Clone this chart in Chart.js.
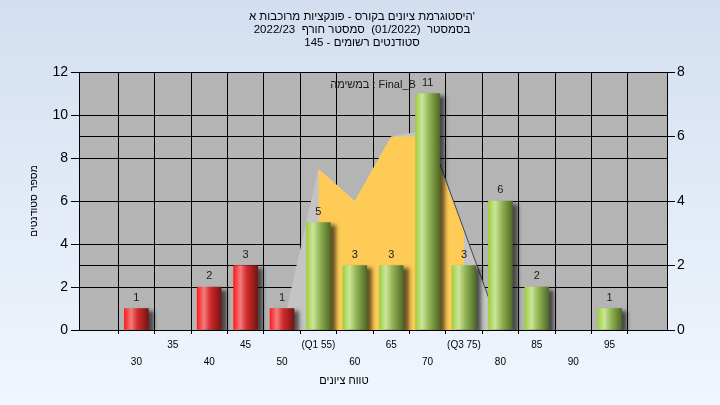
<!DOCTYPE html>
<html lang="he">
<head>
<meta charset="utf-8">
<title>Histogram</title>
<script src="https://cdn.jsdelivr.net/npm/chart.js@4/dist/chart.umd.min.js"></script>
<style>
    html, body {
        margin: 0;
        padding: 0;
        overflow: hidden;
    }
    body {
        width: 720px;
        height: 405px;
        background: linear-gradient(#d3dff1, #f0f6fd);
    }
    canvas {
        display: block;
    }
</style>
</head>
<body>
<canvas id="histChart" width="720" height="405"></canvas>
<script>
// Histogram data (grades on the x axis)
const grades = [30, 35, 40, 45, 50, 55, 60, 65, 70, 75, 80, 85, 90, 95];
const tickLabels = ['30', '35', '40', '45', '50', '(Q1 55)', '60', '65', '70', '(Q3 75)', '80', '85', '90', '95'];
const studentCounts = [1, 0, 2, 3, 1, 5, 3, 3, 11, 3, 6, 2, 0, 1];

// Right axis series
const curveValues = [null, null, null, null, 0, 5, 4, 6, 6.2, 3.1, 0, null, null, null];
const areaValues = [null, null, null, null, null, 5, 4, 6, 6, 3.1, null, null, null, null];

const passGrade = 55;

// Texts
const titleLines = [
    "היסטוגרמת ציונים בקורס - פונקציות מרוכבות א'",
    'בסמסטר  (01/2022)  סמסטר חורף  2022/23',
    'סטודנטים רשומים - 145'
];
const xTitle = 'טווח ציונים';
const yTitle = 'מספר סטודנטים';
const seriesNote = 'במשימה : Final_B';

const FONT = "'Liberation Sans', Arial, sans-serif";
const BAR_W = 24;

const redStops = [[0, '#ff1c1c'], [0.28, '#f37c7c'], [0.55, '#d22a2a'], [1, '#761414']];
const greenStops = [[0, '#9fcf3e'], [0.28, '#cbe59c'], [0.55, '#94b655'], [1, '#4f6a26']];

function toPoints(values) {
    return grades.map((g, i) => ({ x: g, y: values[i] })).filter(p => p.y !== null);
}

// Cylinder-like gradient for each bar
function barGradient(ctx) {
    const chart = ctx.chart;
    const xs = chart.scales.x;
    const fallback = ctx.raw && ctx.raw.x < passGrade ? '#d22a2a' : '#94b655';
    if (ctx.type !== 'data' || !xs || !ctx.raw) return fallback;
    const cx = xs.getPixelForValue(ctx.raw.x);
    if (!isFinite(cx)) return fallback;
    const g = chart.ctx.createLinearGradient(cx - BAR_W / 2, 0, cx + BAR_W / 2, 0);
    const stops = ctx.raw.x < passGrade ? redStops : greenStops;
    stops.forEach(s => g.addColorStop(s[0], s[1]));
    return g;
}

// Gray plot area
const plotBackground = {
    id: 'plotBackground',
    beforeDraw(chart) {
        const { ctx, chartArea: a } = chart;
        ctx.save();
        ctx.fillStyle = '#b4b4b4';
        ctx.fillRect(a.left, a.top, a.right - a.left, a.bottom - a.top);
        ctx.restore();
    }
};

// Drop shadow behind the bars
const barShadow = {
    id: 'barShadow',
    beforeDatasetDraw(chart, args) {
        if (args.meta.type !== 'bar') return;
        const ctx = chart.ctx;
        ctx.save();
        ctx.shadowColor = 'rgba(0, 0, 0, 0.6)';
        ctx.shadowBlur = 4;
        ctx.shadowOffsetX = 5;
        ctx.shadowOffsetY = 3;
    },
    afterDatasetDraw(chart, args) {
        if (args.meta.type !== 'bar') return;
        chart.ctx.restore();
    }
};

// Values above bars, series note, chart title and x axis title
const chartTexts = {
    id: 'chartTexts',
    afterDatasetsDraw(chart) {
        const ctx = chart.ctx;
        const a = chart.chartArea;
        ctx.save();
        ctx.font = '11px ' + FONT;
        ctx.fillStyle = '#1a1a1a';
        ctx.textAlign = 'center';
        ctx.textBaseline = 'alphabetic';
        chart.data.datasets.forEach((ds, i) => {
            if (ds.type !== 'bar') return;
            chart.getDatasetMeta(i).data.forEach((bar, j) => {
                ctx.fillText(String(ds.data[j].y), bar.x, bar.y - 8);
            });
        });
        ctx.textBaseline = 'middle';
        ctx.fillText(seriesNote, (a.left + a.right) / 2, a.top + 13);
        ctx.restore();
    },
    afterDraw(chart) {
        const ctx = chart.ctx;
        ctx.save();
        ctx.fillStyle = '#000';
        ctx.textAlign = 'center';
        ctx.textBaseline = 'middle';
        ctx.font = '11.5px ' + FONT;
        titleLines.forEach((line, i) => ctx.fillText(line, 362, 17 + i * 13));
        ctx.font = '11px ' + FONT;
        ctx.fillText(xTitle, 344, chart.height - 24);
        ctx.restore();
    }
};

function initChart() {
    const ctx = document.getElementById('histChart').getContext('2d');
    Chart.defaults.color = '#000';
    Chart.defaults.font.family = FONT;

    new Chart(ctx, {
        type: 'bar',
        data: {
            datasets: [
                {
                    type: 'bar',
                    data: toPoints(studentCounts.map(v => v > 0 ? v : null)),
                    yAxisID: 'y',
                    backgroundColor: barGradient,
                    borderWidth: 0,
                    barThickness: BAR_W,
                    order: 0
                },
                {
                    type: 'line',
                    data: toPoints(curveValues),
                    yAxisID: 'y2',
                    fill: false,
                    borderWidth: 1,
                    borderColor: '#474747',
                    segment: {
                        borderColor: c => c.p0.parsed.x >= 70 ? '#474747' : 'rgba(0,0,0,0)'
                    },
                    pointRadius: 0,
                    tension: 0,
                    order: 1
                },
                {
                    type: 'line',
                    data: toPoints(areaValues),
                    yAxisID: 'y2',
                    fill: 'origin',
                    backgroundColor: '#ffcb57',
                    borderColor: 'rgba(0,0,0,0)',
                    borderWidth: 0,
                    pointRadius: 0,
                    tension: 0,
                    order: 2
                },
                {
                    type: 'line',
                    data: toPoints(curveValues),
                    yAxisID: 'y2',
                    fill: 'origin',
                    backgroundColor: '#c4c4c4',
                    borderColor: 'rgba(0,0,0,0)',
                    borderWidth: 0,
                    pointRadius: 0,
                    tension: 0,
                    order: 3
                }
            ]
        },
        options: {
            responsive: false,
            animation: false,
            layout: { padding: { top: 72 } },
            plugins: {
                legend: { display: false },
                tooltip: { enabled: false },
                title: { display: false }
            },
            scales: {
                x: {
                    type: 'linear',
                    min: 25,
                    max: 100,
                    afterBuildTicks: s => { s.ticks = grades.map(v => ({ value: v })); },
                    afterFit: s => { s.height = 75; },
                    grid: { color: '#000', tickColor: '#000', tickLength: 4 },
                    border: { color: '#000' },
                    ticks: {
                        autoSkip: false,
                        maxRotation: 0,
                        padding: 3,
                        font: { size: 10, lineHeight: 1.7 },
                        callback: v => {
                            const i = grades.indexOf(v);
                            return i % 2 ? [tickLabels[i]] : ['', tickLabels[i]];
                        }
                    }
                },
                y: {
                    position: 'left',
                    min: 0,
                    max: 12,
                    afterFit: s => { s.width = 79; },
                    grid: { color: '#000', tickColor: '#000', tickLength: 8 },
                    border: { color: '#000' },
                    ticks: { stepSize: 2, padding: 3, font: { size: 14 } },
                    title: {
                        display: true,
                        text: yTitle,
                        font: { size: 10.5 },
                        padding: { top: 28 }
                    }
                },
                y2: {
                    position: 'right',
                    min: 0,
                    max: 8,
                    afterFit: s => { s.width = 53; },
                    grid: { color: '#000', tickColor: '#000', tickLength: 8 },
                    border: { color: '#000' },
                    ticks: { stepSize: 2, padding: 2, font: { size: 14 } }
                }
            }
        },
        plugins: [plotBackground, barShadow, chartTexts]
    });
}

document.addEventListener('DOMContentLoaded', initChart);
</script>
</body>
</html>
